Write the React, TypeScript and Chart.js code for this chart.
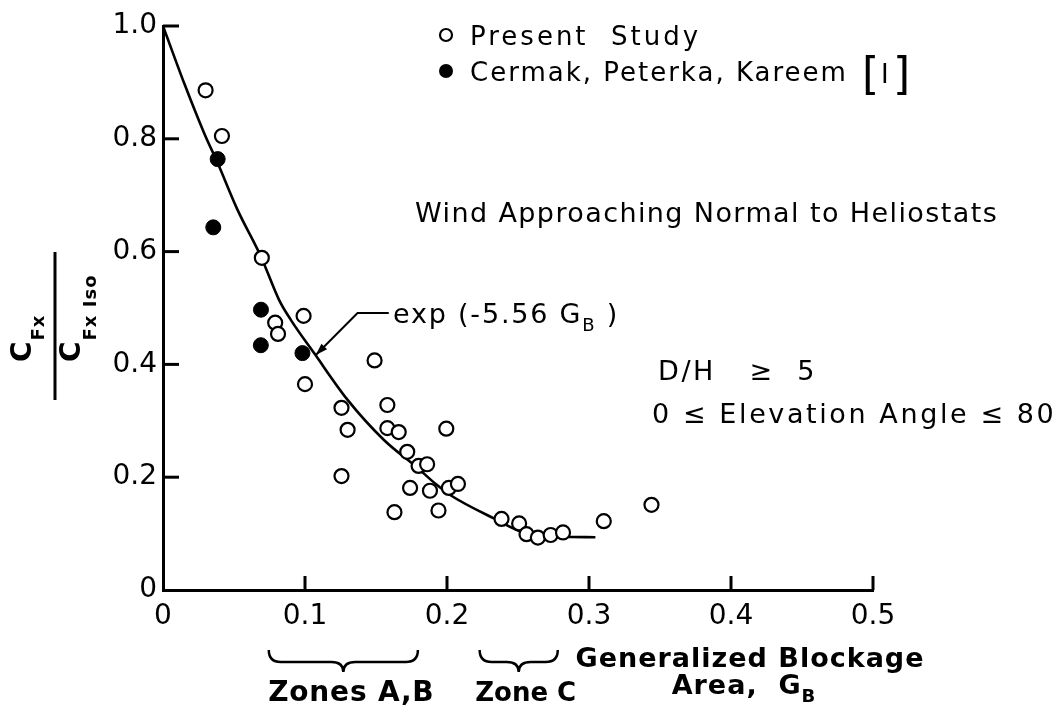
import React, { useEffect, useRef } from "react";
import { Chart, registerables } from "chart.js";

Chart.register(...registerables);

// ---------------- data ----------------
const presentX = [0.030, 0.0415, 0.0696, 0.079, 0.081, 0.099, 0.100, 0.1257, 0.130, 0.1257, 0.149, 0.158, 0.158, 0.166, 0.163, 0.172, 0.180, 0.186, 0.174, 0.188, 0.194, 0.1995, 0.2013, 0.2077, 0.2384, 0.2508, 0.256, 0.264, 0.273, 0.2817, 0.3104, 0.344];
const presentY = [0.886, 0.805, 0.589, 0.474, 0.454, 0.486, 0.365, 0.323, 0.284, 0.202, 0.407, 0.328, 0.287, 0.280, 0.138, 0.245, 0.220, 0.223, 0.181, 0.176, 0.141, 0.286, 0.181, 0.188, 0.126, 0.118, 0.099, 0.093, 0.0975, 0.102, 0.122, 0.151];

const cermakX = [0.0385, 0.0354, 0.069, 0.0689, 0.0982];
const cermakY = [0.764, 0.643, 0.497, 0.434, 0.420];

const curveX = [0, 0.015, 0.029, 0.0385, 0.0525, 0.069, 0.0818, 0.090, 0.1064, 0.130, 0.1556, 0.179, 0.193, 0.2025, 0.233, 0.2564, 0.2846, 0.3045];
const curveY = [1.0, 0.898, 0.810, 0.757, 0.674, 0.591, 0.514, 0.479, 0.420, 0.337, 0.266, 0.217, 0.186, 0.168, 0.127, 0.100, 0.0945, 0.0934];

const xTicks = [0, 0.1, 0.2, 0.3, 0.4, 0.5];
const yTicks = [0, 0.2, 0.4, 0.6, 0.8, 1.0];
const xTickLabels = ["0", "0.1", "0.2", "0.3", "0.4", "0.5"];
const yTickLabels = ["0", "0.2", "0.4", "0.6", "0.8", "1.0"];

const legendLabels = ["Present Study", "Cermak, Peterka, Kareem"];
const zoneLabels = ["Zones A,B", "Zone C"];
const zoneRanges = [[0.0745, 0.1795], [0.223, 0.278]];

const FONT = "'DejaVu Sans', sans-serif";

type Seg = { t: string; size: number; dy?: number };

function drawRich(
  ctx: CanvasRenderingContext2D,
  segs: Seg[],
  x: number,
  y: number,
  align: "left" | "center",
  spacing = 0,
  bold = false
) {
  ctx.textBaseline = "alphabetic";
  ctx.textAlign = "left";
  (ctx as any).letterSpacing = spacing + "px";
  const widths = segs.map((s) => {
    ctx.font = `${bold ? "bold " : ""}${s.size}px ${FONT}`;
    return ctx.measureText(s.t).width;
  });
  const total = widths.reduce((a, b) => a + b, 0);
  let cx = align === "center" ? x - total / 2 : x;
  segs.forEach((s, i) => {
    ctx.font = `${bold ? "bold " : ""}${s.size}px ${FONT}`;
    ctx.fillText(s.t, cx, y + (s.dy || 0));
    cx += widths[i];
  });
  (ctx as any).letterSpacing = "0px";
}

function line(ctx: CanvasRenderingContext2D, x1: number, y1: number, x2: number, y2: number) {
  ctx.beginPath();
  ctx.moveTo(x1, y1);
  ctx.lineTo(x2, y2);
  ctx.stroke();
}

function brace(ctx: CanvasRenderingContext2D, x0: number, x1: number, yTop: number, yMid: number, yTip: number) {
  const xc = (x0 + x1) / 2;
  const r = 12;
  ctx.beginPath();
  ctx.moveTo(x0, yTop);
  ctx.quadraticCurveTo(x0, yMid, x0 + r, yMid);
  ctx.lineTo(xc - r, yMid);
  ctx.quadraticCurveTo(xc, yMid, xc, yTip);
  ctx.quadraticCurveTo(xc, yMid, xc + r, yMid);
  ctx.lineTo(x1 - r, yMid);
  ctx.quadraticCurveTo(x1, yMid, x1, yTop);
  ctx.stroke();
}

const annotations = {
  id: "annotations",
  afterDraw(chart: any) {
    const ctx: CanvasRenderingContext2D = chart.ctx;
    const ca = chart.chartArea;
    const xs = chart.scales.x;
    const ys = chart.scales.y;
    ctx.save();
    ctx.strokeStyle = "#000";
    ctx.fillStyle = "#000";
    ctx.lineCap = "butt";

    // inward tick marks
    ctx.lineWidth = 3;
    yTicks.forEach((v) => {
      if (v === 0) return;
      const py = ys.getPixelForValue(v);
      line(ctx, ca.left, py, ca.left + 16, py);
    });
    xTicks.forEach((v) => {
      if (v === 0) return;
      const px = xs.getPixelForValue(v);
      line(ctx, px, ca.bottom, px, ca.bottom - 14);
    });

    // legend
    ctx.lineWidth = 2.2;
    ctx.beginPath();
    ctx.arc(446, 35, 6, 0, Math.PI * 2);
    ctx.fillStyle = "#fff";
    ctx.fill();
    ctx.stroke();
    ctx.fillStyle = "#000";
    ctx.beginPath();
    ctx.arc(446, 71, 7, 0, Math.PI * 2);
    ctx.fill();
    drawRich(ctx, [{ t: "Present  Study", size: 26 }], 470, 44.5, "left", 3);
    drawRich(ctx, [{ t: legendLabels[1], size: 26 }], 470, 80.5, "left", 2);
    drawRich(ctx, [{ t: "[", size: 44 }], 862, 89, "left");
    drawRich(ctx, [{ t: "I", size: 26 }], 881, 83, "left");
    drawRich(ctx, [{ t: "]", size: 44 }], 893, 89, "left");

    // annotation texts
    drawRich(ctx, [{ t: "Wind Approaching Normal to Heliostats", size: 27 }], 415, 222, "left", 1.4);
    drawRich(
      ctx,
      [
        { t: "exp (-5.56 G", size: 27 },
        { t: "B", size: 18, dy: 8 },
        { t: " )", size: 27 },
      ],
      393,
      323,
      "left",
      1.8
    );
    drawRich(ctx, [{ t: "D/H   \u2265  5", size: 27 }], 658, 380, "left", 2.6);
    drawRich(ctx, [{ t: "0 \u2264 Elevation Angle \u2264 80", size: 27 }], 652, 423, "left", 2.6);

    // leader line with arrow to the curve
    const tipX = xs.getPixelForValue(0.1076);
    const tipY = ys.getPixelForValue(0.4167);
    const elX = xs.getPixelForValue(0.137);
    const elY = ys.getPixelForValue(0.491);
    const endX = xs.getPixelForValue(0.159);
    ctx.lineWidth = 2;
    ctx.beginPath();
    ctx.moveTo(endX, elY);
    ctx.lineTo(elX, elY);
    ctx.lineTo(tipX, tipY);
    ctx.stroke();
    const ang = Math.atan2(tipY - elY, tipX - elX);
    const al = 12;
    const aw = 4;
    ctx.beginPath();
    ctx.moveTo(tipX, tipY);
    ctx.lineTo(tipX - al * Math.cos(ang) + aw * Math.sin(ang), tipY - al * Math.sin(ang) - aw * Math.cos(ang));
    ctx.lineTo(tipX - al * Math.cos(ang) - aw * Math.sin(ang), tipY - al * Math.sin(ang) + aw * Math.cos(ang));
    ctx.closePath();
    ctx.fill();

    // y-axis fraction label
    ctx.lineWidth = 3;
    line(ctx, 55, 252, 55, 400);
    ctx.save();
    ctx.translate(31, 362);
    ctx.rotate(-Math.PI / 2);
    drawRich(ctx, [{ t: "C", size: 28 }, { t: "Fx", size: 18, dy: 13 }], 0, 0, "left", 1, true);
    ctx.restore();
    ctx.save();
    ctx.translate(80, 362);
    ctx.rotate(-Math.PI / 2);
    drawRich(ctx, [{ t: "C", size: 28 }, { t: "Fx Iso", size: 18, dy: 16 }], 0, 0, "left", 1, true);
    ctx.restore();

    // x-axis title
    drawRich(ctx, [{ t: "Generalized Blockage", size: 27 }], 750, 667, "center", 1, true);
    drawRich(
      ctx,
      [
        { t: "Area,  G", size: 27 },
        { t: "B", size: 18, dy: 8 },
      ],
      744,
      694,
      "center",
      1,
      true
    );

    // zone braces and labels
    ctx.lineWidth = 2.5;
    zoneRanges.forEach((r, i) => {
      const x0 = xs.getPixelForValue(r[0]);
      const x1 = xs.getPixelForValue(r[1]);
      brace(ctx, x0, x1, 650, 662, 672);
      drawRich(
        ctx,
        [{ t: zoneLabels[i], size: i === 0 ? 28 : 26 }],
        (x0 + x1) / 2 + (i === 0 ? 8 : 7),
        701,
        "center",
        i === 0 ? 0.8 : 0,
        true
      );
    });

    ctx.restore();
  },
};

export default function App() {
  const ref = useRef<HTMLCanvasElement>(null);
  useEffect(() => {
    document.body.style.margin = "0";
    const chart = new Chart(ref.current as HTMLCanvasElement, {
      type: "scatter",
      data: {
        datasets: [
          {
            label: legendLabels[0],
            data: presentX.map((x, i) => ({ x, y: presentY[i] })),
            pointStyle: "circle",
            pointRadius: 7,
            pointBackgroundColor: "#fff",
            pointBorderColor: "#000",
            pointBorderWidth: 2.2,
            showLine: false,
            order: 1,
          },
          {
            label: legendLabels[1],
            data: cermakX.map((x, i) => ({ x, y: cermakY[i] })),
            pointStyle: "circle",
            pointRadius: 7.5,
            pointBackgroundColor: "#000",
            pointBorderColor: "#000",
            pointBorderWidth: 1,
            showLine: false,
            order: 1,
          },
          {
            type: "line",
            label: "exp (-5.56 GB)",
            data: curveX.map((x, i) => ({ x, y: curveY[i] })),
            borderColor: "#000",
            borderWidth: 2.6,
            pointRadius: 0,
            cubicInterpolationMode: "monotone",
            fill: false,
            order: 3,
          } as any,
        ],
      },
      options: {
        responsive: false,
        animation: false,
        devicePixelRatio: 1,
        events: [],
        layout: { padding: { left: 103, right: 188, top: 26, bottom: 79 } },
        plugins: { legend: { display: false }, tooltip: { enabled: false } },
        scales: {
          x: {
            type: "linear",
            min: 0,
            max: 0.5,
            afterFit: (s: any) => {
              s.height = 50;
            },
            grid: { display: false, drawTicks: false },
            border: { display: true, color: "#000", width: 3 },
            ticks: {
              stepSize: 0.1,
              autoSkip: false,
              maxRotation: 0,
              padding: 10,
              color: "#000",
              font: { family: FONT, size: 28 },
              callback: (_v: any, i: number) => xTickLabels[i] ?? "",
            },
          },
          y: {
            type: "linear",
            min: 0,
            max: 1,
            afterFit: (s: any) => {
              s.width = 60;
            },
            grid: { display: false, drawTicks: false },
            border: { display: true, color: "#000", width: 3 },
            ticks: {
              stepSize: 0.2,
              autoSkip: false,
              padding: 6,
              color: "#000",
              font: { family: FONT, size: 28 },
              callback: (_v: any, i: number) => yTickLabels[i] ?? "",
            },
          },
        },
      },
      plugins: [annotations],
    } as any);
    return () => chart.destroy();
  }, []);
  return (
    <div style={{ position: "fixed", left: 0, top: 0, width: 1061, height: 719, background: "#fff" }}>
      <canvas ref={ref} width={1061} height={719} style={{ display: "block", width: 1061, height: 719 }} />
    </div>
  );
}
